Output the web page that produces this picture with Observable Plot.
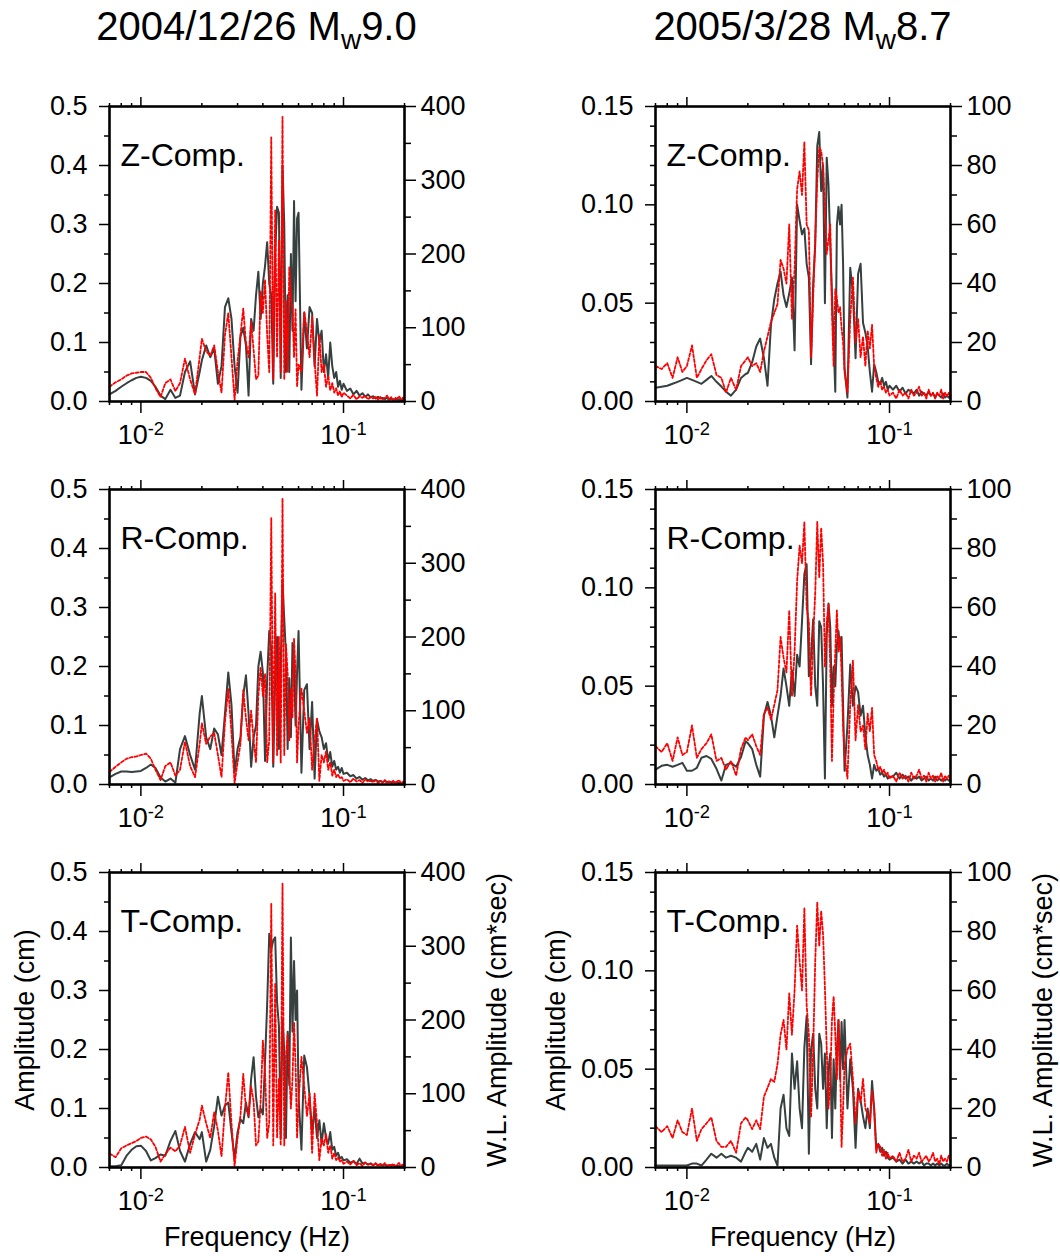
<!DOCTYPE html>
<html><head><meta charset="utf-8">
<script src="https://cdn.jsdelivr.net/npm/d3@7"></script>
<script src="https://cdn.jsdelivr.net/npm/@observablehq/plot@0.6"></script>
<style>
body{margin:0;background:#fff;font-family:"Liberation Sans",Arial,Helvetica,sans-serif;}
#page{position:relative;width:1060px;height:1256px;overflow:hidden;background:#fff;}
.title{position:absolute;top:6px;width:400px;font-size:40px;line-height:40px;white-space:nowrap;text-align:center;color:#000;}
.title sub{font-size:28px;vertical-align:-9px;line-height:0;}
.panel{position:absolute;}
</style></head><body><div id="page"></div><script>
// ---------- data ----------
const freqs = [0.007,0.0075,0.008,0.0085,0.009,0.0095,0.010,0.0106,0.0112,0.0118,0.0125,0.0132,0.014,0.0148,0.0156,0.0165,0.0175,0.0185,0.0195,
0.020,0.021,0.022,0.023,0.024,0.025,0.026,0.027,0.028,0.029,0.030,0.031,0.032,0.033,0.034,0.035,0.036,0.037,0.038,0.039,0.040,
0.041,0.042,0.043,0.044,0.045,0.046,0.047,0.048,0.049,0.050,0.051,0.052,0.053,0.054,0.055,0.056,0.057,0.058,0.059,0.060,
0.062,0.064,0.066,0.068,0.070,0.072,0.074,0.076,0.078,0.080,0.082,0.084,0.086,0.088,0.090,0.092,0.094,0.096,0.098,0.100,
0.104,0.108,0.112,0.116,0.120,0.124,0.128,0.132,0.136,0.140,0.144,0.148,0.152,0.156,0.160,0.164,0.168,0.172,0.176,0.180,0.184,0.188,0.192,0.196,0.200];

// 2004/12/26 — amplitude (cm)
const zGray2004 = [0.012,0.018,0.025,0.031,0.036,0.040,0.042,0.040,0.035,0.025,
0.010,0.004,0.020,0.006,0.010,0.050,0.068,0.012,0.050,0.070,
0.095,0.075,0.090,0.030,0.060,0.160,0.175,0.140,0.060,0.015,
0.110,0.125,0.095,0.010,0.140,0.120,0.180,0.220,0.140,0.200,
0.230,0.270,0.200,0.180,0.030,0.250,0.330,0.320,0.040,0.400,
0.300,0.050,0.180,0.050,0.250,0.120,0.340,0.170,0.310,0.320,
0.020,0.150,0.090,0.160,0.150,0.060,0.140,0.100,0.120,0.050,
0.080,0.040,0.100,0.060,0.040,0.050,0.025,0.035,0.020,0.030,
0.018,0.022,0.012,0.018,0.010,0.014,0.008,0.012,0.007,0.009,
0.005,0.008,0.005,0.006,0.004,0.006,0.003,0.005,0.003,0.004,
0.003,0.004,0.002,0.003,0.002];
// 2004/12/26 — W.L. amplitude (cm*sec)
const zRed2004 = [20,26,30,35,38,39,40,40,32,18,
6,25,30,14,25,58,30,10,60,85,
68,62,76,40,12,90,120,60,2,55,
90,126,80,60,108,70,30,35,150,120,
165,90,40,358,30,259,60,218,40,386,
30,136,40,182,140,127,60,125,20,50,
40,122,95,60,115,55,8,90,40,50,
20,35,15,25,12,18,8,14,6,12,
8,4,9,3,7,5,8,3,6,4,
7,2,6,3,5,8,3,6,2,5,
4,7,3,5,2];
const rGray2004 = [0.012,0.018,0.022,0.022,0.021,0.022,0.023,0.028,0.034,0.028,
0.012,0.005,0.010,0.003,0.060,0.082,0.050,0.025,0.120,0.150,
0.080,0.060,0.095,0.085,0.050,0.120,0.190,0.135,0.020,0.060,
0.080,0.150,0.185,0.120,0.030,0.080,0.100,0.200,0.225,0.190,
0.040,0.180,0.260,0.230,0.030,0.180,0.250,0.060,0.200,0.345,
0.280,0.220,0.060,0.180,0.080,0.240,0.200,0.100,0.190,0.260,
0.020,0.160,0.170,0.060,0.140,0.010,0.110,0.090,0.080,0.060,
0.070,0.040,0.055,0.030,0.040,0.025,0.030,0.020,0.028,0.018,
0.020,0.014,0.016,0.010,0.013,0.008,0.011,0.007,0.009,0.006,
0.008,0.005,0.006,0.004,0.006,0.004,0.005,0.003,0.004,0.003,
0.004,0.002,0.003,0.002,0.002];
const rRed2004 = [17,24,30,35,37,38,40,42,35,20,
6,25,30,12,20,58,25,10,55,83,
55,65,70,40,10,85,130,70,2,30,
55,128,90,60,100,60,30,120,159,120,
150,30,60,361,30,259,40,200,30,388,
40,190,150,60,130,90,198,150,30,80,
130,100,70,90,20,60,90,5,40,30,
45,20,30,12,20,10,14,8,10,5,
7,3,8,4,6,2,7,4,5,3,
6,2,5,3,6,2,4,3,5,2,
4,6,2,4,3];
const tGray2004 = [0.002,0.002,0.004,0.020,0.030,0.036,0.037,0.028,0.012,0.016,
0.022,0.020,0.045,0.062,0.028,0.010,0.040,0.060,0.048,0.060,
0.010,0.030,0.070,0.120,0.088,0.105,0.110,0.060,0.015,0.060,
0.082,0.075,0.110,0.085,0.150,0.187,0.120,0.085,0.100,0.090,
0.180,0.277,0.396,0.370,0.385,0.390,0.280,0.240,0.050,0.250,
0.200,0.050,0.230,0.140,0.390,0.230,0.350,0.250,0.300,0.120,
0.030,0.190,0.170,0.120,0.060,0.100,0.050,0.080,0.040,0.075,
0.050,0.040,0.060,0.030,0.035,0.020,0.025,0.015,0.018,0.012,
0.014,0.008,0.011,0.006,0.015,0.007,0.008,0.005,0.007,0.004,
0.006,0.004,0.005,0.003,0.005,0.003,0.004,0.003,0.004,0.002,
0.003,0.002,0.003,0.002,0.002];
const tRed2004 = [19,14,26,30,33,36,40,42,38,28,
8,18,27,22,30,55,20,45,65,84,
60,40,75,50,15,80,129,60,2,40,
70,127,80,70,110,90,30,35,90,172,
130,40,60,358,30,250,40,120,30,385,
30,150,180,130,80,120,197,140,40,90,
150,110,70,100,20,100,60,10,40,30,
45,20,30,12,20,10,14,8,10,5,
8,4,9,3,6,2,7,4,5,3,
6,2,5,3,6,2,4,3,5,2,
4,6,2,4,3];

// 2005/3/28 — amplitude (cm)
const zGray2005 = [0.007,0.0075,0.008,0.009,0.010,0.011,0.012,0.011,0.010,0.009,
0.011,0.013,0.010,0.0076,0.005,0.003,0.006,0.012,0.014,0.0145,
0.020,0.028,0.032,0.022,0.008,0.039,0.052,0.060,0.066,0.054,
0.048,0.055,0.063,0.026,0.100,0.092,0.085,0.088,0.070,0.063,
0.019,0.060,0.080,0.130,0.137,0.107,0.120,0.050,0.124,0.110,
0.080,0.055,0.030,0.005,0.090,0.099,0.090,0.100,0.070,0.017,
0.002,0.068,0.055,0.022,0.065,0.070,0.040,0.035,0.028,0.015,
0.005,0.019,0.015,0.010,0.009,0.012,0.008,0.010,0.006,0.008,
0.006,0.008,0.005,0.007,0.004,0.006,0.005,0.004,0.006,0.003,
0.005,0.004,0.003,0.005,0.003,0.004,0.002,0.004,0.003,0.002,
0.004,0.002,0.003,0.002,0.003];
// 2005/3/28 — W.L. amplitude (cm*sec)
const zRed2005 = [12,11,13,8,15,10,12,19,8,11,
14,16,9,8,3,8,4,12,14,15,
12,13,10,17,22,27,30,33,48,45,
40,60,28,45,72,78,70,88,60,58,
15,35,55,75,86,85,80,65,50,55,
60,30,12,38,35,30,32,25,20,10,
3,28,42,20,28,15,22,12,24,18,
26,12,8,5,7,4,5,3,4,2,
3,1,4,2,3,1,4,2,3,5,
2,3,1,4,2,3,1,3,2,4,
1,3,2,3,1];
const rGray2005 = [0.0076,0.0095,0.010,0.009,0.010,0.011,0.007,0.007,0.0085,0.0136,
0.0145,0.013,0.008,0.002,0.010,0.011,0.009,0.014,0.022,0.021,
0.018,0.010,0.004,0.035,0.042,0.035,0.024,0.035,0.045,0.059,
0.050,0.040,0.058,0.045,0.066,0.060,0.083,0.107,0.112,0.055,
0.065,0.084,0.050,0.040,0.083,0.080,0.050,0.003,0.076,0.092,
0.080,0.040,0.060,0.050,0.071,0.078,0.070,0.075,0.040,0.007,
0.030,0.061,0.040,0.050,0.047,0.035,0.040,0.025,0.015,0.010,
0.003,0.010,0.007,0.008,0.005,0.006,0.004,0.005,0.003,0.004,
0.004,0.006,0.003,0.005,0.003,0.004,0.002,0.004,0.003,0.004,
0.002,0.003,0.004,0.002,0.003,0.002,0.004,0.002,0.003,0.002,
0.003,0.002,0.003,0.002,0.002];
const rRed2005 = [13,11,14,8,16,10,11,20,9,12,
14,17,8,9,5,8,3,12,16,15,
17,13,10,24,26,22,27,32,50,43,
38,59,30,45,69,81,75,89,60,55,
30,50,65,89,70,87,75,40,55,61,
40,8,30,45,59,45,50,38,20,10,
2,27,42,15,27,18,20,12,24,18,
26,10,8,5,6,4,5,3,4,2,
3,1,4,2,3,1,4,2,3,5,
2,3,1,4,2,3,1,3,2,4,
1,3,2,3,1];
const tGray2005 = [0.001,0.001,0.001,0.001,0.001,0.001,0.001,0.002,0.002,0.001,
0.004,0.007,0.005,0.007,0.005,0.006,0.005,0.003,0.008,0.010,
0.008,0.012,0.004,0.015,0.010,0.012,0.005,0.001,0.030,0.037,
0.020,0.016,0.058,0.040,0.054,0.030,0.020,0.061,0.077,0.007,
0.060,0.068,0.040,0.030,0.068,0.063,0.040,0.058,0.020,0.050,
0.058,0.015,0.055,0.030,0.060,0.075,0.045,0.074,0.050,0.075,
0.030,0.055,0.040,0.010,0.040,0.034,0.026,0.020,0.030,0.020,
0.044,0.030,0.010,0.012,0.008,0.010,0.006,0.008,0.005,0.004,
0.005,0.003,0.004,0.002,0.004,0.002,0.003,0.002,0.003,0.002,
0.003,0.001,0.002,0.002,0.001,0.002,0.001,0.002,0.001,0.002,
0.001,0.001,0.002,0.001,0.001];
const tRed2005 = [14,12,14,10,16,12,11,20,9,13,
15,17,9,7,7,9,5,15,17,16,
13,16,13,24,27,30,29,35,45,50,
40,59,45,60,82,70,60,88,55,45,
17,40,70,90,75,87,79,61,40,20,
30,50,58,45,30,50,35,7,20,35,
40,42,30,15,26,22,30,20,18,15,
26,20,5,8,7,4,6,3,5,3,
4,2,5,2,3,6,2,4,3,5,
2,3,4,2,3,5,2,3,1,4,
2,3,2,4,2];

const components = ["Z-Comp.", "R-Comp.", "T-Comp."];
const eventDates = ["2004/12/26", "2005/3/28"];
const eventMagnitudes = ["9.0", "8.7"];
const amplitudeMax = [0.5, 0.15];
const wlMax = [400, 100];
const ampTicks2004 = [0, 0.1, 0.2, 0.3, 0.4, 0.5];
const ampMinorTicks2004 = [0.05, 0.15, 0.25, 0.35, 0.45];
const ampTicks2005 = [0, 0.05, 0.1, 0.15];
const ampMinorTicks2005 = [0.01, 0.02, 0.03, 0.04, 0.06, 0.07, 0.08, 0.09, 0.11, 0.12, 0.13, 0.14];
const wlTicks2004 = [0, 100, 200, 300, 400];
const wlMinorTicks2004 = [50, 150, 250, 350];
const wlTicks2005 = [0, 20, 40, 60, 80, 100];
const wlMinorTicks2005 = [10, 30, 50, 70, 90];
const freqTicks = [0.01, 0.1];
const freqTickLabels = ["10^-2", "10^-1"];
const freqMinorTicks = [0.007, 0.008, 0.009, 0.02, 0.03, 0.04, 0.05, 0.06, 0.07, 0.08, 0.09, 0.2];
const ampLabel = "Amplitude (cm)";
const wlLabel = "W.L. Amplitude (cm*sec)";
const freqLabel = "Frequency (Hz)";

const grayByPanel = [[zGray2004, rGray2004, tGray2004], [zGray2005, rGray2005, tGray2005]];
const redByPanel = [[zRed2004, rRed2004, tRed2004], [zRed2005, rRed2005, tRed2005]];
[...grayByPanel.flat(), ...redByPanel.flat()].forEach((a, k) => {
  if (a.length !== freqs.length) throw new Error("series " + k + " has " + a.length + " values");
});

// ---------- layout ----------
const page = document.getElementById("page");
const frameSize = 295;
const colLeft = [109, 655];
const rowTop = [106, 489, 872];
const mL = 100, mR = 110, mT = 20, mB = 95;
const ampLabelOffset = [-84, -99];

eventDates.forEach((d, c) => {
  const t = document.createElement("div");
  t.className = "title";
  t.style.left = (colLeft[c] + frameSize / 2 - 200) + "px";
  t.innerHTML = d + " M<sub>w</sub>" + eventMagnitudes[c];
  page.appendChild(t);
});

function panel(col, row) {
  const aMax = amplitudeMax[col], wMax = wlMax[col];
  const toAmp = w => w * aMax / wMax;
  const gray = freqs.map((f, i) => ({f, v: grayByPanel[col][row][i]}));
  const red = freqs.map((f, i) => ({f, v: toAmp(redByPanel[col][row][i])}));
  const ampTicks = col === 0 ? ampTicks2004 : ampTicks2005;
  const ampMinor = col === 0 ? ampMinorTicks2004 : ampMinorTicks2005;
  const wlTicks = col === 0 ? wlTicks2004 : wlTicks2005;
  const wlMinor = col === 0 ? wlMinorTicks2004 : wlMinorTicks2005;
  const ampFmt = col === 0 ? d => d.toFixed(1) : d => d.toFixed(2);
  const blank = () => "";
  const marks = [
    Plot.line(gray, {x: "f", y: "v", stroke: "#36403f", strokeWidth: 2}),
    Plot.line(red, {x: "f", y: "v", stroke: "#ff0000", strokeWidth: 1.8, strokeDasharray: "3,2"}),
    Plot.frame({stroke: "black", strokeWidth: 2.6}),
    Plot.axisY({anchor: "left", ticks: ampTicks, tickSize: 10, tickPadding: 12, tickFormat: ampFmt, strokeWidth: 1.5, label: null}),
    Plot.axisY({anchor: "left", ticks: ampMinor, tickSize: 5, tickFormat: blank, strokeWidth: 1.5, label: null}),
    Plot.axisY({anchor: "right", ticks: wlTicks.map(toAmp), tickSize: 11, tickPadding: 5, tickFormat: d => String(Math.round(d * wMax / aMax)), strokeWidth: 1.5, label: null}),
    Plot.axisY({anchor: "right", ticks: wlMinor.map(toAmp), tickSize: 6, tickFormat: blank, strokeWidth: 1.5, label: null}),
    Plot.axisX({anchor: "bottom", ticks: freqTicks, tickSize: 12, tickPadding: 11, tickFormat: d => freqTickLabels[freqTicks.indexOf(d)], strokeWidth: 1.5, label: null}),
    Plot.axisX({anchor: "bottom", ticks: freqMinorTicks, tickSize: 4, tickFormat: blank, strokeWidth: 1.5, label: null}),
    Plot.axisX({anchor: "top", ticks: freqTicks, tickSize: 10, tickFormat: blank, strokeWidth: 1.5, label: null}),
    Plot.axisX({anchor: "top", ticks: freqMinorTicks, tickSize: 4, tickFormat: blank, strokeWidth: 1.5, label: null}),
    Plot.text([components[row]], {frameAnchor: "top-left", text: d => d, dx: 11, dy: 59, lineAnchor: "bottom", textAnchor: "start", fontSize: 32})
  ];
  if (row === 2) {
    marks.push(
      Plot.text([ampLabel], {frameAnchor: "left", text: d => d, dx: ampLabelOffset[col], rotate: -90, textAnchor: "middle", lineAnchor: "middle", fontSize: 27}),
      Plot.text([wlLabel], {frameAnchor: "right", text: d => d, dx: 93, rotate: -90, textAnchor: "middle", lineAnchor: "middle", fontSize: 27}),
      Plot.text([freqLabel], {frameAnchor: "bottom", text: d => d, dy: 70, textAnchor: "middle", lineAnchor: "middle", fontSize: 27})
    );
  }
  const svg = Plot.plot({
    width: mL + frameSize + mR,
    height: mT + frameSize + mB,
    marginLeft: mL, marginRight: mR, marginTop: mT, marginBottom: mB,
    x: {type: "log", domain: [0.007, 0.2], label: null},
    y: {domain: [0, aMax], label: null},
    style: {background: "transparent", overflow: "visible", fontFamily: '"Liberation Sans", Arial, Helvetica, sans-serif', fontSize: "27px", color: "black"},
    marks
  });
  // render 10^-2 style labels with a raised exponent
  d3.select(svg).selectAll("text").filter(function () { return this.textContent.includes("^"); }).each(function () {
    const [base, exp] = this.textContent.split("^");
    const sel = d3.select(this);
    sel.text(null);
    sel.append("tspan").text(base);
    sel.append("tspan").attr("dy", "-0.45em").attr("font-size", "0.68em").text(exp);
  });
  svg.classList.add("panel");
  svg.style.position = "absolute";
  svg.style.left = (colLeft[col] - mL) + "px";
  svg.style.top = (rowTop[row] - mT) + "px";
  page.appendChild(svg);
}

for (let c = 0; c < 2; c++) for (let r = 0; r < 3; r++) panel(c, r);
</script></body></html>
